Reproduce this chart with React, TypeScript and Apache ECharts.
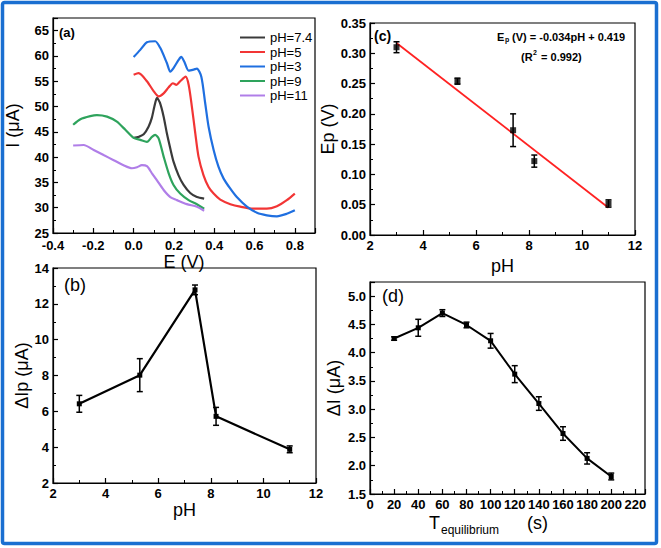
import React, { useEffect, useRef } from 'react';
import * as echarts from 'echarts';

// ---------- Panel (a): voltammograms ----------
const ph74E = [0, 0.025, 0.05, 0.074, 0.09, 0.103, 0.116, 0.13, 0.149, 0.165, 0.182, 0.198, 0.223, 0.248, 0.281, 0.314, 0.35];
const ph74I = [43.8, 44.0, 44.5, 46.0, 47.7, 50.0, 51.7, 50.8, 48.0, 44.7, 41.7, 39.1, 36.4, 34.5, 32.9, 32.1, 31.8];
const ph5E = [0, 0.025, 0.066, 0.1, 0.124, 0.149, 0.174, 0.195, 0.212, 0.231, 0.258, 0.273, 0.289, 0.306, 0.322, 0.347, 0.372, 0.397, 0.43, 0.48, 0.529, 0.595, 0.661, 0.711, 0.76, 0.8];
const ph5I = [56.3, 56.6, 55.0, 53.0, 52.0, 52.6, 53.8, 54.6, 54.3, 55.0, 55.9, 54.3, 50.0, 44.7, 40.1, 36.4, 34.1, 32.8, 31.6, 30.7, 30.2, 29.8, 29.8, 30.3, 31.5, 32.8];
const ph3E = [0, 0.033, 0.066, 0.107, 0.132, 0.165, 0.182, 0.198, 0.223, 0.236, 0.251, 0.273, 0.298, 0.314, 0.336, 0.355, 0.372, 0.397, 0.421, 0.446, 0.479, 0.512, 0.562, 0.612, 0.661, 0.711, 0.76, 0.8];
const ph3I = [59.8, 61.2, 62.7, 62.9, 61.6, 58.6, 56.9, 57.6, 59.2, 59.8, 58.9, 57.1, 57.3, 57.5, 55.9, 50.7, 46.0, 41.4, 38.1, 35.8, 33.8, 32.1, 30.2, 29.0, 28.5, 28.3, 28.8, 29.5];
const ph9E = [-0.3, -0.264, -0.215, -0.182, -0.132, -0.083, -0.041, 0, 0.033, 0.066, 0.091, 0.107, 0.124, 0.149, 0.174, 0.198, 0.231, 0.273, 0.314, 0.35];
const ph9I = [46.4, 47.5, 48.1, 48.3, 48.0, 47.0, 45.4, 43.8, 43.4, 43.0, 44.0, 44.4, 43.7, 40.1, 36.8, 34.5, 32.8, 31.5, 30.7, 29.8];
const ph11E = [-0.3, -0.248, -0.198, -0.149, -0.099, -0.05, -0.008, 0.017, 0.041, 0.066, 0.091, 0.116, 0.149, 0.182, 0.215, 0.264, 0.314, 0.35];
const ph11I = [42.3, 42.4, 41.4, 40.4, 39.4, 38.4, 37.8, 38.0, 38.4, 38.2, 36.8, 35.4, 33.5, 32.1, 31.5, 30.7, 30.2, 29.4];
const curveNames = ['pH=7.4', 'pH=5', 'pH=3', 'pH=9', 'pH=11'];
const curveColors = ['#3a3a3a', '#f23535', '#1f6fe0', '#2ea35c', '#b07ee8'];

// ---------- Panel (b): ΔIp vs pH ----------
const phB = [3, 5.3, 7.4, 8.2, 11];
const dIpB = [6.42, 8.02, 12.78, 5.72, 3.88];
const dIpErrB = [0.47, 0.92, 0.27, 0.5, 0.19];

// ---------- Panel (c): Ep vs pH ----------
const phC = [3, 5.3, 7.4, 8.2, 11];
const epC = [0.31, 0.254, 0.173, 0.122, 0.052];
const epErrC = [0.009, 0.005, 0.027, 0.01, 0.006];
const fitX = [3, 11];
const fitY = [0.317, 0.045];

// ---------- Panel (d): ΔI vs T_equilibrium ----------
const tD = [20, 40, 60, 80, 100, 120, 140, 160, 180, 200];
const dID = [4.25, 4.44, 4.7, 4.49, 4.21, 3.62, 3.1, 2.57, 2.13, 1.81];
const dIErrD = [0.03, 0.15, 0.06, 0.05, 0.13, 0.15, 0.12, 0.12, 0.1, 0.06];

const TICK_FONT = "'Liberation Sans Narrow', 'Arial Narrow', 'Liberation Sans', Arial, sans-serif";
const NAME_FONT = "'Liberation Sans', Arial, sans-serif";

const zip = (a: number[], b: number[]) => a.map((v, i) => [v, b[i]]);
const errData = (x: number[], y: number[], e: number[]) => x.map((v, i) => [v, y[i] - e[i], y[i] + e[i]]);

const fmt = (step: number, dec: number) => (v: number) => {
  const k = v / step;
  return Math.abs(k - Math.round(k)) < 1e-6 ? v.toFixed(dec) : '';
};

function errRender(params: any, api: any) {
  const x = api.value(0);
  const lo = api.value(1);
  const hi = api.value(2);
  const t = api.coord([x, hi]);
  const b = api.coord([x, lo]);
  const w = 3;
  const style = { stroke: '#000', lineWidth: 1.5 };
  return {
    type: 'group',
    children: [
      { type: 'line', shape: { x1: t[0], y1: t[1], x2: b[0], y2: b[1] }, style },
      { type: 'line', shape: { x1: t[0] - w, y1: t[1], x2: t[0] + w, y2: t[1] }, style },
      { type: 'line', shape: { x1: b[0] - w, y1: b[1], x2: b[0] + w, y2: b[1] }, style },
    ],
  };
}

function valueAxis(gridIndex: number, min: number, max: number, interval: number, dec: number, extra: any = {}) {
  return {
    type: 'value',
    gridIndex,
    min,
    max,
    interval,
    axisLine: { show: true, onZero: false, lineStyle: { color: '#000', width: 1.2 } },
    axisTick: { show: true, inside: true, length: 5, lineStyle: { color: '#000', width: 1.2 } },
    minorTick: { show: true, splitNumber: 2, length: 3, lineStyle: { color: '#000', width: 1 } },
    splitLine: { show: false },
    axisLabel: {
      color: '#000',
      fontWeight: 'bold',
      fontSize: 13,
      fontFamily: TICK_FONT,
      margin: 4,
      formatter: fmt(interval, dec),
      showMaxLabel: true,
      showMinLabel: true,
    },
    nameLocation: 'middle',
    nameTextStyle: { color: '#000', fontSize: 18, fontFamily: NAME_FONT },
    ...extra,
  };
}

export default function App() {
  const ref = useRef<HTMLDivElement>(null);
  useEffect(() => {
    document.body.style.margin = '0';
    const chart = echarts.init(ref.current!, null, { renderer: 'svg' });
    const curveE = [ph74E, ph5E, ph3E, ph9E, ph11E];
    const curveI = [ph74I, ph5I, ph3I, ph9I, ph11I];
    const axA = valueAxis(0, -0.4, 0.9, 0.2, 1, { name: 'E (V)', nameGap: 14 });
    axA.axisLabel.margin = 6;
    const option: any = {
      animation: false,
      backgroundColor: '#fff',
      grid: [
        { left: 53, top: 18, width: 262, height: 215, show: true, borderColor: '#000', borderWidth: 1.2 },
        { left: 53, top: 268, width: 263, height: 215, show: true, borderColor: '#000', borderWidth: 1.2 },
        { left: 370, top: 23, width: 265, height: 212, show: true, borderColor: '#000', borderWidth: 1.2 },
        { left: 370, top: 282, width: 275, height: 212, show: true, borderColor: '#000', borderWidth: 1.2 },
      ],
      xAxis: [
        axA,
        valueAxis(1, 2, 12, 2, 0, { name: 'pH', nameGap: 18 }),
        valueAxis(2, 2, 12, 2, 0, { name: 'pH', nameGap: 22 }),
        valueAxis(3, 0, 228, 20, 0),
      ],
      yAxis: [
        valueAxis(0, 25, 67.5, 5, 0, { name: 'I (μA)', nameGap: 31 }),
        valueAxis(1, 2, 14, 2, 0, { name: 'ΔIp (μA)', nameGap: 16 }),
        valueAxis(2, 0, 0.35, 0.05, 2, { name: 'Ep (V)', nameGap: 24 }),
        valueAxis(3, 1.5, 5.25, 0.5, 1, { name: 'ΔI (μA)', nameGap: 27 }),
      ],
      legend: {
        orient: 'vertical',
        left: 235,
        top: 26,
        icon: 'rect',
        itemWidth: 25,
        itemHeight: 2,
        itemGap: 1.5,
        data: curveNames,
        textStyle: { color: '#000', fontSize: 13, fontFamily: NAME_FONT, lineHeight: 13 },
      },
      series: [
        ...curveNames.map((n, i) => ({
          name: n,
          type: 'line',
          xAxisIndex: 0,
          yAxisIndex: 0,
          data: zip(curveE[i], curveI[i]),
          symbol: 'none',
          smooth: 0.25,
          lineStyle: { color: curveColors[i], width: 2.2 },
          itemStyle: { color: curveColors[i] },
        })),
        {
          type: 'custom', xAxisIndex: 1, yAxisIndex: 1, renderItem: errRender,
          data: errData(phB, dIpB, dIpErrB), encode: { x: 0, y: [1, 2] }, z: 3,
        },
        {
          type: 'line', xAxisIndex: 1, yAxisIndex: 1, data: zip(phB, dIpB),
          symbol: 'rect', symbolSize: 5, lineStyle: { color: '#000', width: 2.2 }, itemStyle: { color: '#000' }, z: 4,
        },
        {
          type: 'line', xAxisIndex: 2, yAxisIndex: 2, data: zip(fitX, fitY),
          symbol: 'none', lineStyle: { color: '#f22', width: 1.8 }, z: 2,
        },
        {
          type: 'custom', xAxisIndex: 2, yAxisIndex: 2, renderItem: errRender,
          data: errData(phC, epC, epErrC), encode: { x: 0, y: [1, 2] }, z: 3,
        },
        {
          type: 'scatter', xAxisIndex: 2, yAxisIndex: 2, data: zip(phC, epC),
          symbol: 'rect', symbolSize: 6, itemStyle: { color: '#000' }, z: 4,
        },
        {
          type: 'custom', xAxisIndex: 3, yAxisIndex: 3, renderItem: errRender,
          data: errData(tD, dID, dIErrD), encode: { x: 0, y: [1, 2] }, z: 3,
        },
        {
          type: 'line', xAxisIndex: 3, yAxisIndex: 3, data: zip(tD, dID),
          symbol: 'rect', symbolSize: 5, lineStyle: { color: '#000', width: 2 }, itemStyle: { color: '#000' }, z: 4,
        },
      ],
      graphic: [
        { type: 'text', left: 59, top: 26, style: { text: '(a)', font: `bold 13px ${NAME_FONT}`, fill: '#000' } },
        { type: 'text', left: 64, top: 276, style: { text: '(b)', font: `18px ${NAME_FONT}`, fill: '#000' } },
        { type: 'text', left: 374, top: 29, style: { text: '(c)', font: `bold 14px ${NAME_FONT}`, fill: '#000' } },
        { type: 'text', left: 382, top: 287, style: { text: '(d)', font: `18px ${NAME_FONT}`, fill: '#000' } },
        // equation in (c)
        { type: 'text', x: 497, y: 31, style: { text: 'E', font: `bold 11px ${NAME_FONT}`, fill: '#000' } },
        { type: 'text', x: 505, y: 36, style: { text: 'p', font: `bold 7px ${NAME_FONT}`, fill: '#000' } },
        { type: 'text', x: 509, y: 31, style: { text: ' (V) = -0.034pH + 0.419', font: `bold 11px ${NAME_FONT}`, fill: '#000' } },
        { type: 'text', x: 521, y: 51, style: { text: '(R', font: `bold 11px ${NAME_FONT}`, fill: '#000' } },
        { type: 'text', x: 533, y: 49, style: { text: '2', font: `bold 7px ${NAME_FONT}`, fill: '#000' } },
        { type: 'text', x: 538, y: 51, style: { text: ' = 0.992)', font: `bold 11px ${NAME_FONT}`, fill: '#000' } },
        // x title for (d)
        { type: 'text', x: 429, y: 514, style: { text: 'T', font: `18px ${NAME_FONT}`, fill: '#000' } },
        { type: 'text', x: 441, y: 524, style: { text: 'equilibrium', font: `12px ${NAME_FONT}`, fill: '#000' } },
        { type: 'text', x: 527, y: 514, style: { text: '(s)', font: `18px ${NAME_FONT}`, fill: '#000' } },
        // blue frame
        {
          type: 'rect', z: 100,
          shape: { x: 2.5, y: 2.5, width: 654, height: 541, r: 2 },
          style: { fill: 'none', stroke: '#1a6fd1', lineWidth: 3.5 },
        },
      ],
    };
    chart.setOption(option);
    return () => chart.dispose();
  }, []);
  return <div ref={ref} style={{ width: 661, height: 548 }} />;
}
